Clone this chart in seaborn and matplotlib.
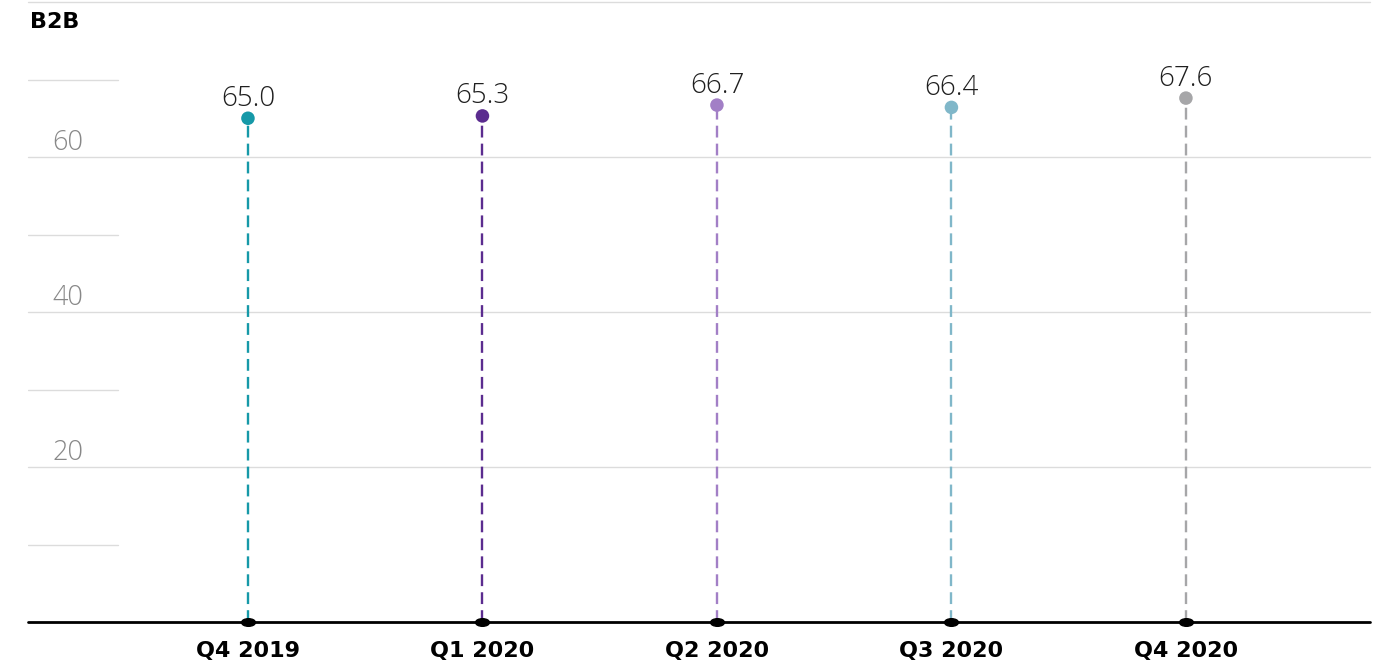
import matplotlib
matplotlib.use("Agg")
import matplotlib.pyplot as plt
import matplotlib.transforms as mtrans
import seaborn as sns
import pandas as pd
import numpy as np
from matplotlib.path import Path

quarters = ["Q4 2019", "Q1 2020", "Q2 2020", "Q3 2020", "Q4 2020"]
values = [65.0, 65.3, 66.7, 66.4, 67.6]
colors = ["#1699a8", "#5b2c8f", "#a27fc6", "#80b7c9", "#a6a6a8"]
major_ticks = [20, 40, 60, 80]
labeled_ticks = [20, 40, 60]
minor_ticks = [10, 30, 50, 70]
title = "B2B"

sns.set_theme(style="white")
plt.rcParams["font.family"] = ["Open Sans", "DejaVu Sans"]

df = pd.DataFrame({"quarter": quarters, "value": values})
pos = np.arange(len(quarters))

fig = plt.figure(figsize=(13.78, 6.69), dpi=100)
ax = fig.add_axes([28/1378, 47/669, (1370-28)/1378, (622-2)/669])

# grid lines
for t in major_ticks:
    ax.axhline(t, color="#dcdcdc", lw=1.0, zorder=0, clip_on=False)
for t in minor_ticks:
    ax.axhline(t, xmin=0, xmax=90/1342, color="#dcdcdc", lw=1.0, zorder=0)

ytrans = ax.get_yaxis_transform() + mtrans.ScaledTranslation(0, 7/100, fig.dpi_scale_trans)
for t in labeled_ticks:
    ax.text(24/1342, t, f"{t}", transform=ytrans, ha="left", va="baseline",
            fontsize=19.5, color="#888888", fontweight="light")

# stems
for i, (v, c) in enumerate(zip(values, colors)):
    ax.vlines(pos[i], 0, v, colors=c, linestyles=(0, (5, 2.6)), lw=1.7, zorder=2)

# baseline
ax.axhline(0, color="black", lw=2.0, zorder=3, clip_on=False)

sns.scatterplot(data=df, x="quarter", y="value", hue="quarter", palette=colors,
                s=95, edgecolor="none", legend=False, ax=ax, zorder=4)

# small ellipses on baseline
circ = Path.unit_circle()
ell = Path(circ.vertices * np.array([1.0, 0.55]), circ.codes)
ax.scatter(pos, np.zeros(len(pos)), marker=ell, s=100, color="black", zorder=5,
           clip_on=False)

for i, v in enumerate(values):
    ax.annotate(f"{v:.1f}", (pos[i], v), xytext=(0, 9), textcoords="offset points",
                ha="center", va="baseline", fontsize=20, color="#1f1f1f",
                fontweight="light")

ax.set_ylim(0, 80)
ax.set_xlim(-0.938, 4.785)
ax.set_yticks([])
ax.set_xticks(pos)
ax.set_xticklabels(quarters, fontsize=16, fontweight="bold", color="black",
                   family=["DejaVu Sans"])
ax.tick_params(axis="x", length=0, pad=14)
ax.set_xlabel("")
ax.set_ylabel("")
for s in ax.spines.values():
    s.set_visible(False)

fig.text(30/1378, 1 - 22/669, title, fontsize=16, fontweight="bold", color="black",
         ha="left", va="center", family=["DejaVu Sans"])

fig.savefig("out.png", dpi=100)
